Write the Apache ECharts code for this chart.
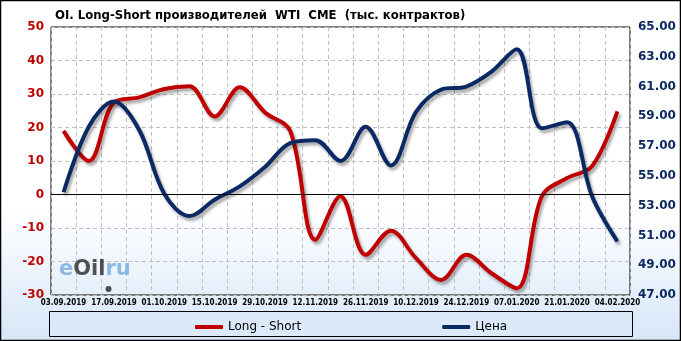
<!DOCTYPE html>
<html>
<head>
<meta charset="utf-8">
<script src="https://cdn.jsdelivr.net/npm/echarts@6/dist/echarts.min.js"></script>
<style>
html,body{margin:0;padding:0;}
#c{width:681px;height:341px;background:linear-gradient(to bottom,#ffffff 0%,#ffffff 62%,#d6e6f8 100%);}
</style>
</head>
<body>
<div id="c"></div>
<script>
const titleText = 'OI. Long-Short производителей  WTI  CME  (тыс. контрактов)';
const dates = ['03.09.2019','10.09.2019','17.09.2019','24.09.2019','01.10.2019','08.10.2019','15.10.2019','22.10.2019','29.10.2019','05.11.2019','12.11.2019','19.11.2019','26.11.2019','03.12.2019','10.12.2019','17.12.2019','24.12.2019','31.12.2019','07.01.2020','14.01.2020','21.01.2020','28.01.2020','04.02.2020'];
const longShort = [19, 10, 27.5, 29, 31.5, 32.3, 23.3, 32, 24.5, 19, -13.5, -0.5, -18, -10.8, -19, -25.5, -18, -23.5, -28, -0.5, 4.9, 8.5, 24.8];
const price = [53.9, 58.3, 60.0, 58.1, 53.8, 52.3, 53.4, 54.3, 55.6, 57.2, 57.4, 56.0, 58.3, 55.7, 59.3, 60.8, 61.0, 62.0, 63.5, 58.2, 58.6, 53.6, 50.6];
const seriesNames = ['Long - Short', 'Цена'];

const RED = '#c00000', NAVY = '#0b2a63';
const chart = echarts.init(document.getElementById('c'), null, {renderer: 'canvas'});
const shadow = {shadowColor: 'rgba(0,0,0,0.35)', shadowBlur: 3, shadowOffsetX: 2, shadowOffsetY: 3};
chart.setOption({
  animation: false,
  backgroundColor: 'transparent',
  textStyle: {fontFamily: 'DejaVu Sans'},
  title: {
    text: titleText, left: 50, top: 5,
    textStyle: {fontSize: 11.7, fontWeight: 'bold', color: '#000', fontFamily: 'DejaVu Sans'}
  },
  grid: {left: 51, right: 51, top: 27, bottom: 46, show: true, borderColor: '#000', borderWidth: 1, backgroundColor: 'transparent'},
  legend: {
    data: seriesNames, left: 190, top: 316, itemGap: 141, itemWidth: 28, itemHeight: 4, icon: 'roundRect',
    textStyle: {fontSize: 12, color: '#000', fontFamily: 'DejaVu Sans'}
  },
  xAxis: {
    type: 'category', data: dates, boundaryGap: true,
    axisLine: {show: false}, axisTick: {show: false},
    axisLabel: {interval: 1, margin: 4, fontSize: 8, fontWeight: 'bold', color: '#000', fontFamily: 'DejaVu Sans Condensed'},
    splitLine: {show: true, interval: 0, lineStyle: {color: '#c0c0c0', type: [4, 3], width: 1}}
  },
  yAxis: [
    {type: 'value', min: -30, max: 50, interval: 10, position: 'left',
     axisLine: {show: false}, axisTick: {show: false},
     axisLabel: {margin: 7, fontSize: 12, fontWeight: 'bold', color: RED, fontFamily: 'DejaVu Sans'},
     splitLine: {show: true, lineStyle: {color: '#c0c0c0', type: [4, 3], width: 1}}},
    {type: 'value', min: 47, max: 65, interval: 2, position: 'right',
     axisLine: {show: false}, axisTick: {show: false},
     axisLabel: {margin: 8, fontSize: 12, fontWeight: 'bold', color: NAVY, fontFamily: 'DejaVu Sans', formatter: v => v.toFixed(2)},
     splitLine: {show: false}}
  ],
  series: [
    {name: seriesNames[0], type: 'line', yAxisIndex: 0, data: longShort, smooth: 0.35, showSymbol: false, symbol: 'none',
     color: RED, lineStyle: Object.assign({color: RED, width: 4}, shadow), z: 3,
     markLine: {silent: true, symbol: 'none', label: {show: false}, lineStyle: {color: '#000', type: 'solid', width: 1, shadowBlur: 0, shadowOffsetX: 0, shadowOffsetY: 0}, data: [{yAxis: 0}]}},
    {name: seriesNames[1], type: 'line', yAxisIndex: 1, data: price, smooth: 0.35, showSymbol: false, symbol: 'none',
     color: NAVY, lineStyle: Object.assign({color: NAVY, width: 4}, shadow), z: 4}
  ],
  graphic: [
    {type: 'rect', z: -1, shape: {x: 49.5, y: 311.5, width: 583, height: 25}, style: {fill: '#dce9f8', stroke: '#000', lineWidth: 1}},
    {type: 'rect', z: 100, shape: {x: 0.5, y: 0.5, width: 680, height: 340}, style: {fill: 'none', stroke: '#000', lineWidth: 1.5}},
    {type: 'text', z: 1, left: 59, top: 259, style: {
      text: '{b|e}{k|Oil}{b|ru}',
      rich: {b: {fill: '#7aaee0', fontSize: 21, fontWeight: 'bold', fontFamily: 'DejaVu Sans'},
             k: {fill: '#333', fontSize: 21, fontWeight: 'bold', fontFamily: 'DejaVu Sans'}},
      opacity: 0.85}},
    {type: 'circle', z: 1, shape: {cx: 108.5, cy: 289, r: 3}, style: {fill: '#222', opacity: 0.8}}
  ]
});
</script>
</body>
</html>
